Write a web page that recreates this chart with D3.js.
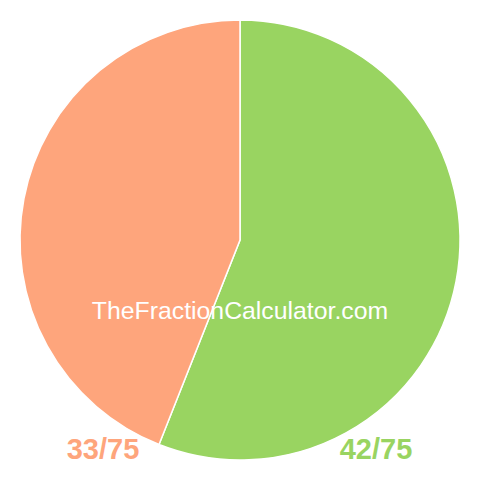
<!DOCTYPE html>
<html><head><meta charset="utf-8">
<script src="https://cdn.jsdelivr.net/npm/d3@7"></script>
<style>body{margin:0;background:#fff}</style>
</head><body>
<svg id="c" width="480" height="480"></svg>
<script>
const categories = ["42/75", "33/75"];
const values = [42, 33];
const colors = ["#99d461", "#fea57c"];
const watermark = "TheFractionCalculator.com";

const svg = d3.select("#c");
const cx = 240, cy = 240, r = 220;
const pie = d3.pie().sort(null)(values);
const arc = d3.arc().innerRadius(0).outerRadius(r);
const g = svg.append("g").attr("transform", `translate(${cx},${cy})`);
g.selectAll("path").data(pie).join("path")
  .attr("d", arc)
  .attr("fill", (d,i) => colors[i])
  .attr("stroke", "#fff").attr("stroke-width", 1.5);

svg.append("text").attr("x", 240).attr("y", 319)
  .attr("text-anchor", "middle")
  .attr("font-family", "Liberation Sans, Arial, sans-serif")
  .attr("font-size", 24.8).attr("fill", "#fff").text(watermark);

const labelX = d3.scalePoint().domain(["33/75","42/75"]).range([103, 376]);
svg.selectAll("text.lab").data(categories).join("text").attr("class","lab")
  .attr("x", d => labelX(d)).attr("y", 459)
  .attr("text-anchor", "middle")
  .attr("font-family", "Liberation Sans, Arial, sans-serif")
  .attr("font-weight", "bold").attr("font-size", 29)
  .attr("fill", (d,i) => colors[i]).text(d => d);
</script>
</body></html>
